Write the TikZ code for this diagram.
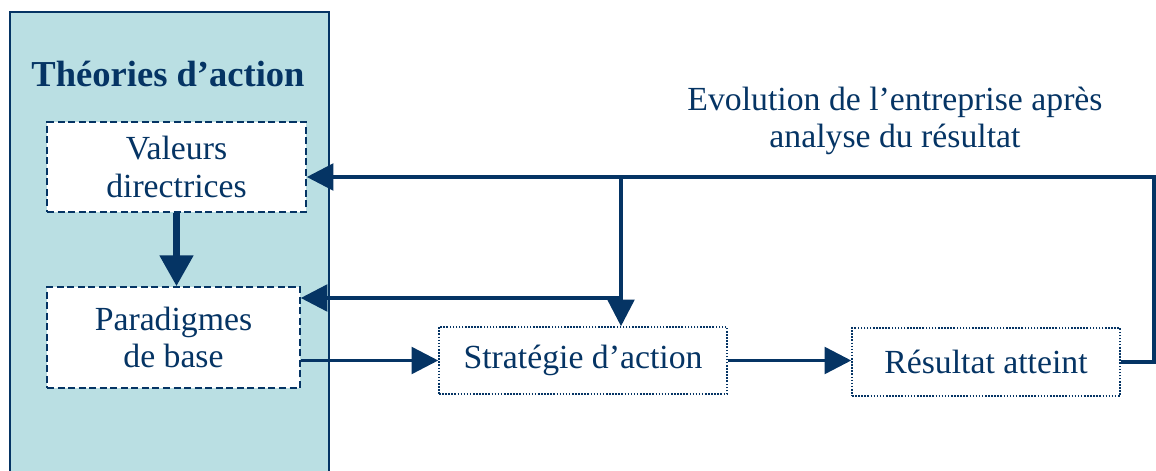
\documentclass[tikz,border=0pt]{standalone}
\usepackage{fontspec}
\setmainfont{Liberation Serif}
\usepackage{xcolor}
\usetikzlibrary{calc,positioning,arrows.meta}
\definecolor{navy}{RGB}{5,52,100}
\definecolor{panelblue}{RGB}{186,223,227}

\begin{document}
\begin{tikzpicture}[
    every node/.style={text=navy, align=center, font=\fontsize{24}{26.5}\selectfont},
    dashbox/.style={draw=navy, fill=white, line width=1.1pt, dash pattern=on 5pt off 2.5pt, inner sep=0pt},
    dotbox/.style={draw=navy, fill=white, line width=1.1pt, dash pattern=on 1.1pt off 1.1pt, inner sep=0pt},
    flow/.style={draw=navy, line width=2.5pt, -{Triangle[length=19pt,width=19pt]}},
    bigflow/.style={draw=navy, line width=5pt, -{Triangle[length=22pt,width=23pt]}}
]
    \useasboundingbox (0,0) rectangle (28.9,11.75);

    % panel of the left
    \draw [navy, fill=panelblue, line width=1.4pt] (0.25,-0.3) rectangle (8.225,11.45);
    \node (theo) at (4.2, 9.9) {\fontsize{26}{30}\selectfont\bfseries Théories d’action};

    \node [dashbox, minimum width=6.475cm, minimum height=2.25cm] (val) at (4.4125, 7.575) {Valeurs\\directrices};
    \node [dashbox, minimum width=6.325cm, minimum height=2.525cm] (para) at (4.3375, 3.3125) {Paradigmes\\de base};

    \node [dotbox, minimum width=7.2cm, minimum height=1.675cm] (strat) at (14.575, 2.7375) {Stratégie d’action};
    \node [dotbox, minimum width=6.7cm, minimum height=1.7cm] (res) at (24.65, 2.7) {Résultat atteint};

    \node (evo) at (22.375, 8.725) {Evolution de l’entreprise après\\analyse du résultat};

    \coordinate (corner) at (28.85, 7.325);
    \coordinate (junc) at (15.525, 7.325);
    \coordinate (junc2) at (15.525, 4.3);

    \draw [bigflow] (val.south) -- (para.north -| val.south);
    \draw [flow] (para.east |- strat.west) -- (strat.west);
    \draw [flow] (strat.east) -- (res.west |- strat.east);
    \draw [flow] (res.east) -| (corner) -- (val.east |- corner); % retour
    \draw [flow] (junc) -- (strat.north -| junc);
    \draw [flow] (junc2) -- (para.east |- junc2);
\end{tikzpicture}
\end{document}
